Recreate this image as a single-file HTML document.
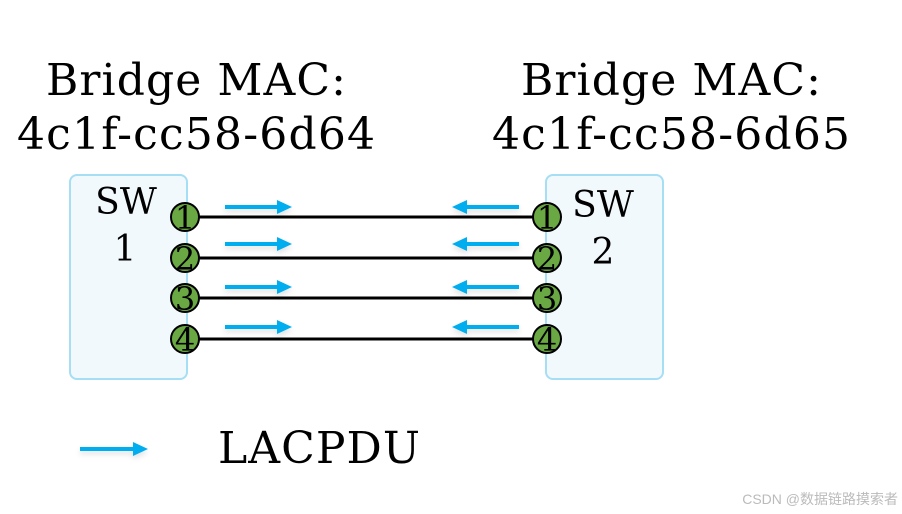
<!DOCTYPE html>
<html><head><meta charset="utf-8"><style>
html,body{margin:0;padding:0;background:#fff;}
svg{display:block}
</style></head><body>
<svg width="902" height="514" viewBox="0 0 902 514" xmlns="http://www.w3.org/2000/svg">
<defs>
<filter id="sh" x="-20%" y="-200%" width="140%" height="500%"><feDropShadow dx="0" dy="3" stdDeviation="3" flood-color="#000" flood-opacity="0.12"/></filter>
</defs>
<g font-family="DejaVu Serif, Liberation Serif, serif" fill="#000">
<text x="196" y="95" font-size="44" text-anchor="middle" textLength="300">Bridge MAC:</text>
<text x="196" y="149" font-size="44" text-anchor="middle" textLength="358">4c1f-cc58-6d64</text>
<text x="671" y="95" font-size="44" text-anchor="middle" textLength="300">Bridge MAC:</text>
<text x="671" y="149" font-size="44" text-anchor="middle" textLength="358">4c1f-cc58-6d65</text>
</g>
<rect x="70" y="175" width="117" height="204" rx="7" fill="#f2f9fd" stroke="#a6def4" stroke-width="2"/>
<rect x="546" y="175" width="117" height="204" rx="7" fill="#f2f9fd" stroke="#a6def4" stroke-width="2"/>
<g font-family="DejaVu Serif, Liberation Serif, serif" font-size="36" text-anchor="middle">
<text x="126" y="214">SW</text><text x="125" y="261">1</text>
<text x="603" y="217">SW</text><text x="603" y="264">2</text>
</g>
<g stroke="#000" stroke-width="3">
<line x1="185" y1="217" x2="547" y2="217"/>
<line x1="185" y1="258" x2="547" y2="258"/>
<line x1="185" y1="298" x2="547" y2="298"/>
<line x1="185" y1="339" x2="547" y2="339"/>
</g>
<g fill="#6aa843" stroke="#000" stroke-width="2">
<circle cx="185" cy="217" r="14"/><circle cx="185" cy="258" r="14"/><circle cx="185" cy="298" r="14"/><circle cx="185" cy="339" r="14"/>
<circle cx="547" cy="217" r="14"/><circle cx="547" cy="258" r="14"/><circle cx="547" cy="298" r="14"/><circle cx="547" cy="339" r="14"/>
</g>
<g font-family="DejaVu Serif, Liberation Serif, serif" font-size="32" text-anchor="middle">
<text x="185" y="229">1</text><text x="185" y="270">2</text><text x="185" y="310">3</text><text x="185" y="351">4</text>
<text x="547" y="229">1</text><text x="547" y="270">2</text><text x="547" y="310">3</text><text x="547" y="351">4</text>
</g>
<g fill="#00adef" filter="url(#sh)">
<path d="M225 205h52v-5l15 7l-15 7v-5h-52z"/>
<path d="M225 242h52v-5l15 7l-15 7v-5h-52z"/>
<path d="M225 285h52v-5l15 7l-15 7v-5h-52z"/>
<path d="M225 325h52v-5l15 7l-15 7v-5h-52z"/>
<path d="M519 205h-52v-5l-15 7l15 7v-5h52z"/>
<path d="M519 242h-52v-5l-15 7l15 7v-5h52z"/>
<path d="M519 285h-52v-5l-15 7l15 7v-5h52z"/>
<path d="M519 325h-52v-5l-15 7l15 7v-5h52z"/>
<path d="M80 447h53v-5l15 7l-15 7v-5h-53z"/>
</g>
<text x="218" y="463" font-family="DejaVu Serif, Liberation Serif, serif" font-size="44" textLength="202">LACPDU</text>
<text x="898" y="504" font-family="Liberation Sans, Noto Sans CJK SC, sans-serif" font-size="14" fill="#bbb" text-anchor="end">CSDN @数据链路摸索者</text>
</svg>
</body></html>
